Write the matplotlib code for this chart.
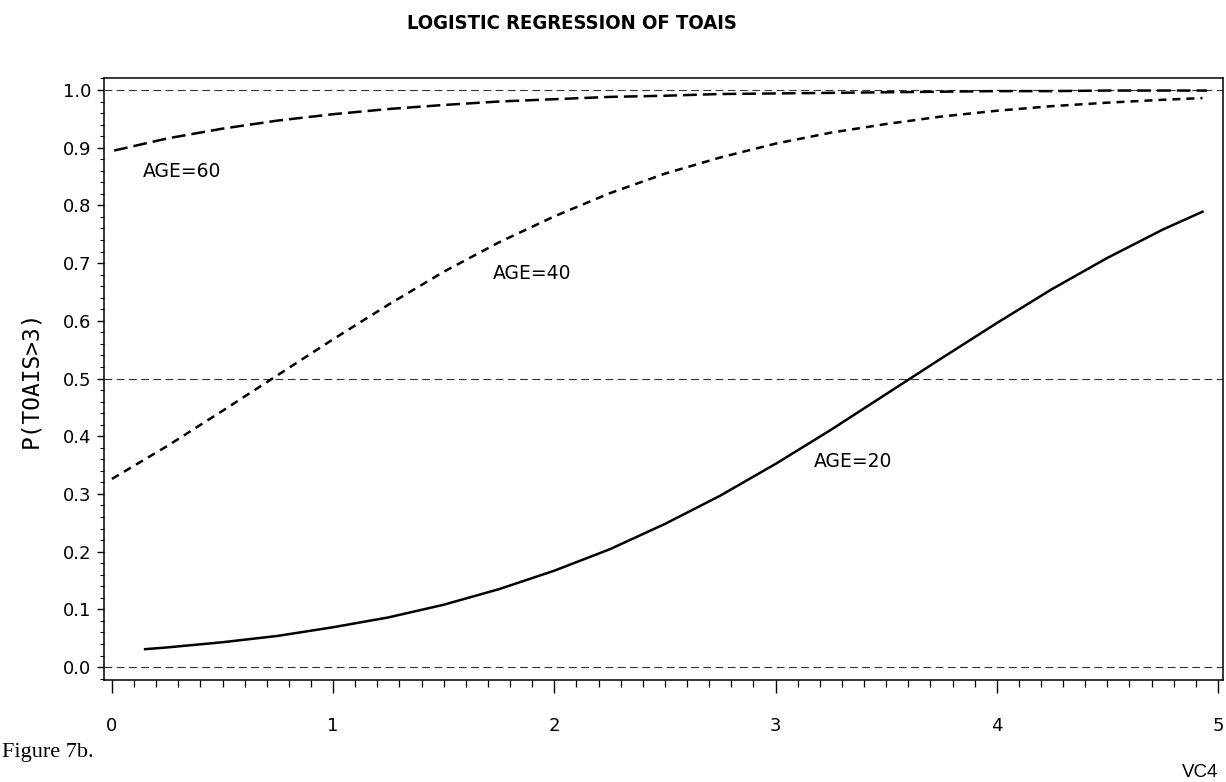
import matplotlib.pyplot as plt
from matplotlib.ticker import MultipleLocator

# VC4 grid and predicted P(TOAIS>3) per age group
vc4_20 = [0.15, 0.25, 0.5, 0.75, 1.0, 1.25, 1.5, 1.75, 2.0, 2.25, 2.5,
          2.75, 3.0, 3.25, 3.5, 3.75, 4.0, 4.25, 4.5, 4.75, 4.93]
p_age20 = [0.031, 0.034, 0.043, 0.054, 0.069, 0.086, 0.108, 0.135, 0.167,
           0.204, 0.248, 0.297, 0.352, 0.411, 0.473, 0.535, 0.596, 0.655,
           0.709, 0.758, 0.789]

vc4_40 = [0.0, 0.25, 0.5, 0.75, 1.0, 1.25, 1.5, 1.75, 2.0, 2.25, 2.5,
          2.75, 3.0, 3.25, 3.5, 3.75, 4.0, 4.25, 4.5, 4.75, 4.93]
p_age40 = [0.326, 0.383, 0.444, 0.506, 0.568, 0.628, 0.685, 0.736, 0.781,
           0.821, 0.855, 0.883, 0.907, 0.926, 0.941, 0.954, 0.964, 0.972,
           0.978, 0.983, 0.986]

vc4_60 = [0.01, 0.25, 0.5, 0.75, 1.0, 1.25, 1.5, 1.75, 2.0, 2.25, 2.5,
          2.75, 3.0, 3.25, 3.5, 3.75, 4.0, 4.25, 4.5, 4.75, 4.95]
p_age60 = [0.895, 0.916, 0.933, 0.947, 0.958, 0.967, 0.974, 0.980, 0.984,
           0.988, 0.990, 0.993, 0.994, 0.995, 0.996, 0.997, 0.998, 0.998,
           0.999, 0.999, 0.999]

ref_levels = [0.0, 0.5, 1.0]
x_ticks = [0, 1, 2, 3, 4, 5]
y_ticks = [0.0, 0.1, 0.2, 0.3, 0.4, 0.5, 0.6, 0.7, 0.8, 0.9, 1.0]

fig = plt.figure(figsize=(12.26, 7.82), dpi=100)
ax = fig.add_axes([0.0848, 0.1304, 0.9128, 0.7699])

for lev in ref_levels:
    ax.axhline(lev, color='#333333', lw=0.8, linestyle=(0, (7, 4)))

ax.plot(vc4_20, p_age20, color='black', lw=1.8)
ax.plot(vc4_40, p_age40, color='black', lw=1.8, linestyle=(0, (3.2, 2.4)))
ax.plot(vc4_60, p_age60, color='black', lw=1.8, linestyle=(0, (5.5, 2.4)))

ax.text(0.14, 0.858, 'AGE=60', fontsize=13.5, va='center')
ax.text(1.72, 0.682, 'AGE=40', fontsize=13.5, va='center')
ax.text(3.175, 0.357, 'AGE=20', fontsize=13.5, va='center')

ax.set_xlim(-0.036, 5.023)
ax.set_ylim(-0.0225, 1.0208)
ax.set_xticks(x_ticks)
ax.set_yticks(y_ticks)
ax.set_yticklabels(['%.1f' % v for v in y_ticks])
ax.xaxis.set_minor_locator(MultipleLocator(0.1))
ax.yaxis.set_minor_locator(MultipleLocator(0.02))
ax.tick_params(axis='x', which='major', direction='out', length=9.5, width=1.0,
               pad=17, labelsize=13)
ax.tick_params(axis='x', which='minor', direction='out', length=5, width=0.9)
ax.tick_params(axis='y', which='major', direction='out', length=5, width=1.0,
               pad=4, labelsize=13)
ax.tick_params(axis='y', which='minor', direction='out', length=3, width=0.8)
for s in ax.spines.values():
    s.set_linewidth(1.1)

ax.set_ylabel('P(TOAIS>3)', family='DejaVu Sans Mono', fontsize=16.5,
              labelpad=15)

fig.text(0.4666, 0.970, 'LOGISTIC REGRESSION OF TOAIS', ha='center',
         va='center', fontsize=14.5, fontweight='bold', fontstretch='condensed',
         family=['DejaVu Sans'])
fig.text(0.002, 0.032, 'Figure 7b.', family='Liberation Serif', fontsize=16)
fig.text(0.9935, 0.007, 'VC4', ha='right', family='Liberation Sans',
         fontsize=13.5)

plt.savefig('out.png')
plt.close()
